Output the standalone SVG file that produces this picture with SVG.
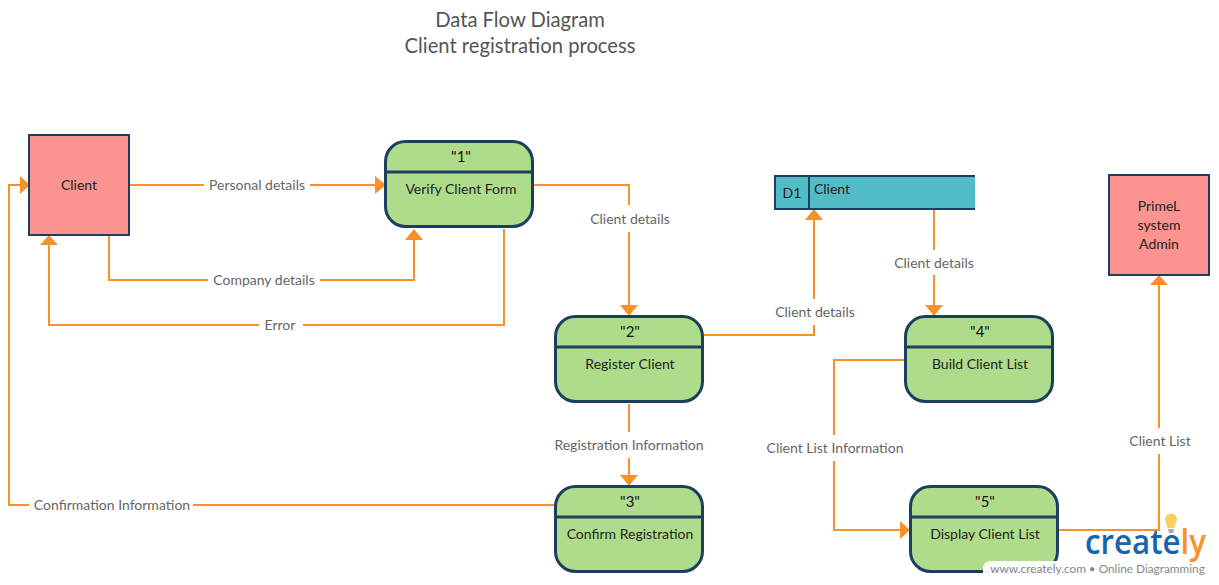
<svg xmlns="http://www.w3.org/2000/svg" width="1219" height="585" viewBox="0 0 1219 585">
<style>
text{font-family:Lato,"Liberation Sans",sans-serif;text-anchor:middle}
.title{font-size:20.2px;fill:#555}
.lbl{font-size:14px;fill:#666}
.t{font-size:14px;fill:#222}
.n{font-size:15px;fill:#111}
.ext{fill:#fb9490;stroke:#1c3f60;stroke-width:2}
.proc{fill:#afdc8a;stroke:#1c3f60;stroke-width:3}
.div{stroke:#1c3f60;stroke-width:3;fill:none}
.c{fill:none;stroke:#f8912a;stroke-width:2}
.h{fill:#f8912a}
</style>
<rect width="1219" height="585" fill="#fff"/>
<g id="title"><text class="title" x="520" y="27">Data Flow Diagram</text><text class="title" x="520" y="53">Client registration process</text></g>
<g id="connectors">
<path class="c" d="M129 185H204M310 185H376"/><path class="h" d="M386 185L375 176V194Z"/>
<path class="c" d="M109 235V280H208M320 280H414V239"/><path class="h" d="M414 229L405 240H423Z"/>
<path class="c" d="M504 229V325H303M259 325H49V245"/><path class="h" d="M49 235L40 245H58Z"/>
<path class="c" d="M533 185H629V205M629 232V306"/><path class="h" d="M629 316L620 305H638Z"/>
<path class="c" d="M703 335H814V325M814 299V219"/><path class="h" d="M814 209L805 220H823Z"/>
<path class="c" d="M934 209V250M934 275V306"/><path class="h" d="M934 316L925 305H943Z"/>
<path class="c" d="M629 404V432M629 458V476"/><path class="h" d="M629 486L620 475H638Z"/>
<path class="c" d="M555 505H193M29 505H9V185H20"/><path class="h" d="M30 185L20 176V194Z"/>
<path class="c" d="M905 360H834V435M834 461V530H900"/><path class="h" d="M910 530L900 521V539Z"/>
<path class="c" d="M1058 530H1159V454M1159 428V285"/><path class="h" d="M1159 275L1150 285H1168Z"/>
</g>
<g id="connector-labels">
<text class="lbl" x="257" y="190">Personal details</text>
<text class="lbl" x="264" y="285">Company details</text>
<text class="lbl" x="280" y="330">Error</text>
<text class="lbl" x="630" y="224">Client details</text>
<text class="lbl" x="815" y="317">Client details</text>
<text class="lbl" x="934" y="268">Client details</text>
<text class="lbl" x="629" y="450">Registration Information</text>
<text class="lbl" x="112" y="510">Confirmation Information</text>
<text class="lbl" x="835" y="453">Client List Information</text>
<text class="lbl" x="1160" y="446">Client List</text>
</g>
<g id="client"><rect class="ext" x="29" y="135" width="100" height="100"/><text class="t" x="79" y="190">Client</text></g>
<g id="admin"><rect class="ext" x="1109" y="175" width="100" height="100"/><text class="t" x="1159" y="211">PrimeL</text><text class="t" x="1159" y="230">system</text><text class="t" x="1159" y="249">Admin</text></g>
<g id="p1"><rect class="proc" x="385.5" y="141.5" width="147" height="85" rx="20"/><path class="div" d="M385.500 172H532.500"/><text class="n" x="461" y="162">"1"</text><text class="t" x="461" y="194">Verify Client Form</text></g>
<g id="p2"><rect class="proc" x="555.5" y="316.5" width="147" height="85" rx="20"/><path class="div" d="M555.500 347H702.500"/><text class="n" x="630" y="337">"2"</text><text class="t" x="630" y="369">Register Client</text></g>
<g id="p3"><rect class="proc" x="555.5" y="486.5" width="147" height="85" rx="20"/><path class="div" d="M555.500 517H702.500"/><text class="n" x="630" y="507">"3"</text><text class="t" x="630" y="539">Confirm Registration</text></g>
<g id="p4"><rect class="proc" x="905.5" y="316.5" width="147" height="85" rx="20"/><path class="div" d="M905.500 347H1052.500"/><text class="n" x="980" y="337">"4"</text><text class="t" x="980" y="369">Build Client List</text></g>
<g id="p5"><rect class="proc" x="910.5" y="486.5" width="147" height="85" rx="20"/><path class="div" d="M910.500 517H1057.500"/><text class="n" x="985" y="507">"5"</text><text class="t" x="985" y="539">Display Client List</text></g>
<g id="d1"><rect x="775" y="176" width="200" height="33" fill="#52bcc6"/><path d="M975 176H775V209H975M809 176V209" fill="none" stroke="#1c3f60" stroke-width="2"/><text class="t" x="792" y="198">D1</text><text class="t" x="832" y="194">Client</text></g>
<g id="watermark">
<path d="M983 585V569Q983 561 991 561H1219V585Z" fill="#fff" fill-opacity=".95"/>
<text x="1097.500" y="573" style="font-size:11.8px;fill:#888">www.creately.com • Online Diagramming</text>
<path d="M1167.500 528C1167 524 1165 522 1165 519.500A6 6 0 0 1 1177 519.500C1177 522 1175 524 1174.500 528Z" fill="#f7d060"/><path d="M1168 529H1174L1173 533H1169Z" fill="#aaa"/>
<text x="1085" y="554" textLength="121" lengthAdjust="spacingAndGlyphs" style="font-family:'Open Sans',sans-serif;font-weight:600;font-size:34px;fill:#1565ac;text-anchor:start">create<tspan fill="#f8912a">ly</tspan></text>
</g>
</svg>
